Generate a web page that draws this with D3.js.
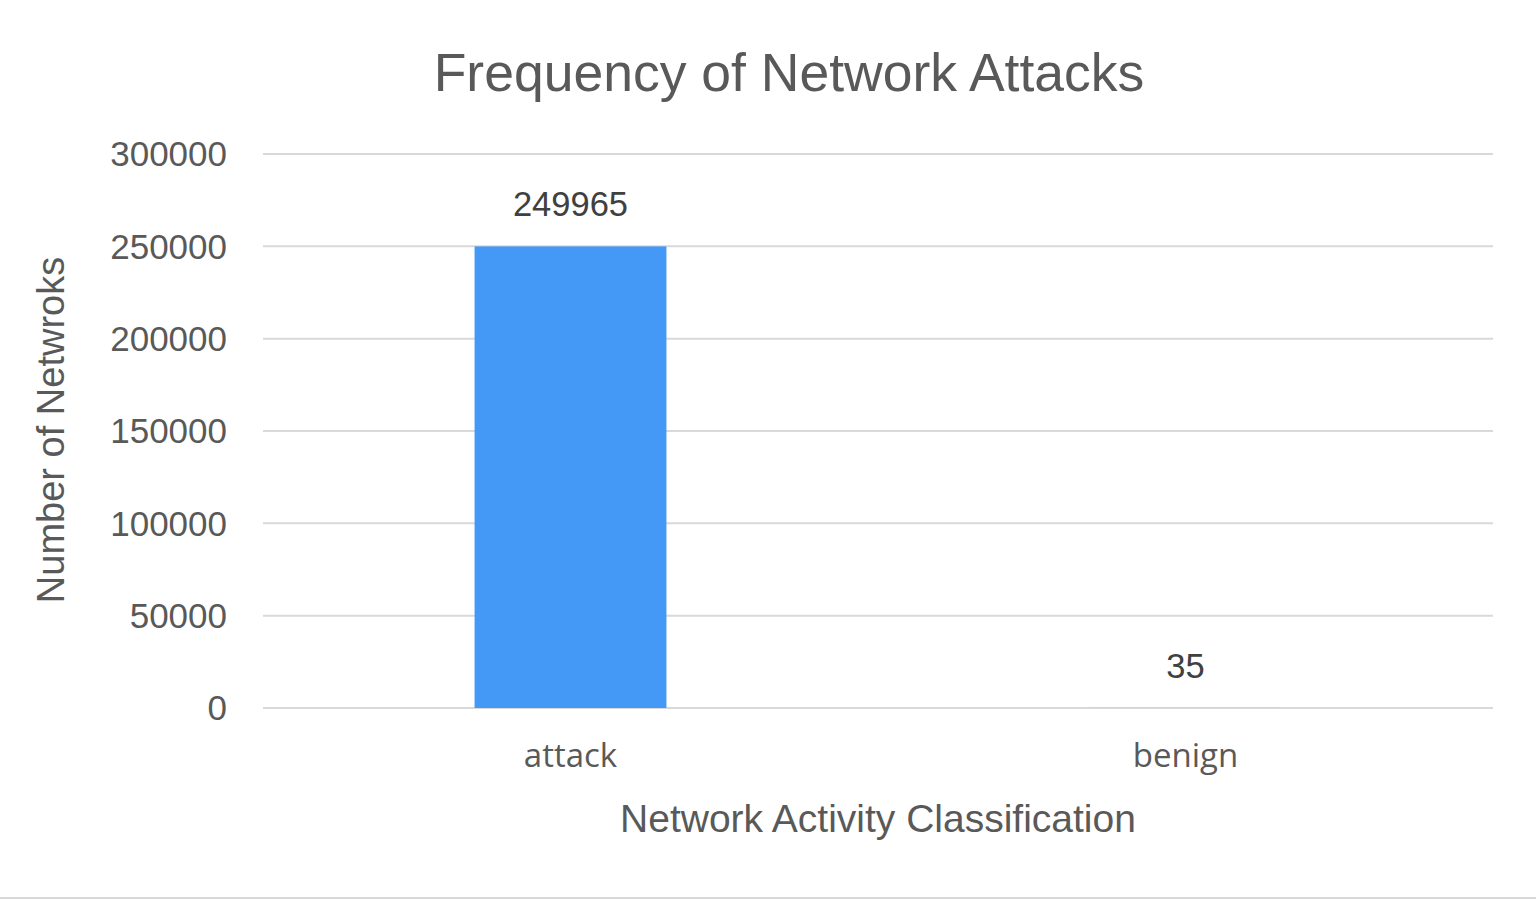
<!DOCTYPE html>
<html lang="en">
<head>
<meta charset="UTF-8">
<title>Frequency of Network Attacks</title>
<script src="https://cdn.jsdelivr.net/npm/d3@7"></script>
<style>
    body { margin: 0; background: #fff; }
    .grid line { stroke: #d9d9d9; stroke-width: 2; }
    .tick-label { font: 35px "Liberation Sans", Arial, sans-serif; fill: #595959; }
    .cat-label { font: 33px "Open Sans", "Liberation Sans", sans-serif; fill: #595959; }
    .value-label { font: 34.5px "Liberation Sans", Arial, sans-serif; fill: #404040; }
</style>
</head>
<body>
<svg width="1536" height="900"></svg>
<script>
    var categories = ["attack", "benign"];
    var counts = [249965, 35];
    var yTicks = [0, 50000, 100000, 150000, 200000, 250000, 300000];

    var svg = d3.select("svg");
    var margin = {left: 263, right: 43, top: 154, bottom: 192};
    var width = 1536, height = 900;

    var x = d3.scaleBand()
        .domain(categories)
        .range([margin.left, width - margin.right])
        .paddingInner(0.688)
        .paddingOuter(0.344);

    var y = d3.scaleLinear()
        .domain([0, 300000])
        .range([height - margin.bottom, margin.top]);

    // gridlines
    svg.append("g").attr("class", "grid")
        .selectAll("line")
        .data(yTicks)
        .enter().append("line")
        .attr("x1", margin.left)
        .attr("x2", width - margin.right)
        .attr("y1", function(d) { return y(d); })
        .attr("y2", function(d) { return y(d); });

    // y tick labels
    svg.append("g").selectAll("text")
        .data(yTicks)
        .enter().append("text")
        .attr("class", "tick-label")
        .attr("x", 227)
        .attr("y", function(d) { return y(d); })
        .attr("dy", "0.35em")
        .attr("text-anchor", "end")
        .text(function(d) { return d; });

    // bars
    svg.append("g").selectAll("rect")
        .data(counts)
        .enter().append("rect")
        .attr("x", function(d, i) { return x(categories[i]); })
        .attr("width", x.bandwidth())
        .attr("y", function(d) { return y(d); })
        .attr("height", function(d) { return y(0) - y(d); })
        .attr("fill", "#4499f7");

    // value labels
    svg.append("g").selectAll("text")
        .data(counts)
        .enter().append("text")
        .attr("class", "value-label")
        .attr("x", function(d, i) { return x(categories[i]) + x.bandwidth() / 2; })
        .attr("y", function(d) { return y(d) - 30; })
        .attr("text-anchor", "middle")
        .text(function(d) { return d; });

    // category labels
    svg.append("g").selectAll("text")
        .data(categories)
        .enter().append("text")
        .attr("class", "cat-label")
        .attr("x", function(d) { return x(d) + x.bandwidth() / 2; })
        .attr("y", 767)
        .attr("text-anchor", "middle")
        .text(function(d) { return d; });

    // title
    svg.append("text")
        .attr("x", 789)
        .attr("y", 91)
        .attr("text-anchor", "middle")
        .style("font", "53.5px 'Liberation Sans', sans-serif")
        .style("fill", "#595959")
        .text("Frequency of Network Attacks");

    // x axis title
    svg.append("text")
        .attr("x", 878)
        .attr("y", 832)
        .attr("text-anchor", "middle")
        .style("font", "39px 'Liberation Sans', sans-serif")
        .style("fill", "#595959")
        .text("Network Activity Classification");

    // y axis title
    svg.append("text")
        .attr("transform", "translate(64,430) rotate(-90)")
        .attr("text-anchor", "middle")
        .style("font", "38px 'Liberation Sans', Arial, sans-serif")
        .style("fill", "#595959")
        .text("Number of Netwroks");

    // bottom border
    svg.append("line")
        .attr("x1", 0).attr("x2", width)
        .attr("y1", 898).attr("y2", 898)
        .attr("stroke", "#d9d9d9")
        .attr("stroke-width", 2);
</script>
</body>
</html>
